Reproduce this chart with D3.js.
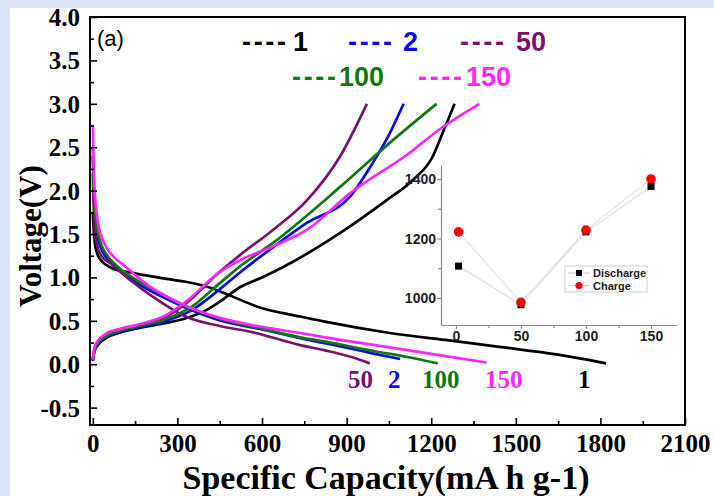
<!DOCTYPE html>
<html>
<head>
<meta charset="utf-8">
<script src="https://cdn.jsdelivr.net/npm/d3@7"></script>
<style>
  body { margin: 0; background: #dae4f6; }
  svg { display: block; }
</style>
</head>
<body>
<div id="chart"></div>
<script>
// ---- data ----
// charge / discharge curves, one pair per cycle (capacity in mA h g-1, voltage in V)
var cycles = ['1', '2', '50', '100', '150'];
var colors = ['#000000', '#0a0aef', '#76146e', '#137813', '#ff26ff'];

var dis1Cap = [0, 3, 7, 15, 28, 50, 81, 130, 177, 250, 329, 417, 480, 587, 735, 823, 1053, 1250, 1442, 1650, 1820];
var dis1V = [1.75, 1.55, 1.4, 1.28, 1.2, 1.14, 1.09, 1.06, 1.03, 0.99, 0.95, 0.88, 0.8, 0.66, 0.55, 0.49, 0.36, 0.28, 0.2, 0.11, 0.01];
var dis2Cap = [0, 3, 8, 15, 30, 50, 80, 150, 250, 330, 445, 600, 735, 900, 1000, 1090];
var dis2V = [2.4, 2.0, 1.7, 1.5, 1.33, 1.22, 1.12, 0.95, 0.77, 0.65, 0.51, 0.4, 0.3, 0.19, 0.12, 0.06];
var dis50Cap = [0, 2, 5, 12, 30, 64, 140, 212, 329, 450, 565, 735, 823, 920, 982];
var dis50V = [2.2, 1.9, 1.65, 1.42, 1.25, 1.16, 0.95, 0.78, 0.55, 0.44, 0.37, 0.22, 0.16, 0.08, 0.01];
var dis100Cap = [0, 3, 8, 15, 30, 50, 80, 150, 250, 330, 445, 600, 735, 823, 1000, 1120, 1223];
var dis100V = [2.5, 2.1, 1.8, 1.58, 1.38, 1.26, 1.15, 0.98, 0.8, 0.67, 0.53, 0.41, 0.31, 0.26, 0.15, 0.08, 0.01];
var dis150Cap = [0, 2, 5, 10, 20, 40, 80, 106, 200, 304, 445, 600, 735, 823, 1000, 1200, 1396];
var dis150V = [2.76, 2.4, 2.1, 1.85, 1.6, 1.4, 1.22, 1.15, 0.9, 0.71, 0.54, 0.43, 0.36, 0.31, 0.22, 0.12, 0.02];

var ch1Cap = [0, 5, 15, 46, 100, 152, 250, 330, 400, 450, 523, 600, 675, 876, 1042, 1134, 1205, 1240, 1283];
var ch1V = [0.04, 0.14, 0.21, 0.3, 0.37, 0.41, 0.47, 0.53, 0.62, 0.72, 0.89, 1.0, 1.12, 1.51, 1.89, 2.12, 2.39, 2.66, 3.0];
var ch2Cap = [0, 5, 15, 46, 100, 152, 250, 350, 445, 523, 640, 760, 912, 993, 1053, 1102];
var ch2V = [0.04, 0.15, 0.22, 0.31, 0.38, 0.42, 0.49, 0.62, 0.85, 1.06, 1.35, 1.63, 1.93, 2.32, 2.66, 3.0];
var ch50Cap = [0, 5, 15, 46, 100, 152, 250, 330, 445, 523, 640, 760, 876, 972];
var ch50V = [0.05, 0.16, 0.24, 0.33, 0.4, 0.44, 0.53, 0.7, 1.05, 1.26, 1.55, 1.89, 2.39, 3.0];
var ch100Cap = [0, 5, 15, 46, 100, 152, 250, 350, 445, 523, 640, 876, 1053, 1219];
var ch100V = [0.05, 0.16, 0.23, 0.32, 0.39, 0.43, 0.51, 0.66, 0.92, 1.13, 1.4, 2.04, 2.55, 3.0];
var ch150Cap = [0, 5, 15, 46, 100, 152, 250, 330, 445, 523, 640, 760, 912, 1113, 1240, 1371];
var ch150V = [0.06, 0.18, 0.26, 0.35, 0.41, 0.45, 0.55, 0.72, 1.05, 1.2, 1.36, 1.55, 1.97, 2.41, 2.73, 3.0];

// inset: capacity vs cycle number
var insetCycles = [2, 50, 100, 150];
var insetDischarge = [1107, 977, 1222, 1375];
var insetCharge = [1222, 985, 1228, 1400];

var xTicks = [0, 300, 600, 900, 1200, 1500, 1800, 2100];
var yTicks = [-0.5, 0, 0.5, 1, 1.5, 2, 2.5, 3, 3.5, 4];

// ---- svg ----
var svgWidth = 714;
var svgHeight = 496;

var svg = d3.select('#chart')
    .append('svg')
    .attr('width', svgWidth)
    .attr('height', svgHeight);

// white sheet over the blue page
svg.append('rect')
    .attr('x', 10).attr('y', 8)
    .attr('width', svgWidth - 10).attr('height', svgHeight - 8)
    .attr('fill', '#ffffff');

var plot = { left: 90, right: 685, top: 17, bottom: 425 };

var xScale = d3.scaleLinear().domain([-10, 2100]).range([plot.left, plot.right]);
var yScale = d3.scaleLinear().domain([-0.7, 4.0]).range([plot.bottom, plot.top]);

var serif = '"Liberation Serif", "Times New Roman", serif';
var sans = '"Liberation Sans", Arial, sans-serif';

// plain hyphen instead of the unicode minus d3 puts in
var fmt1 = v => v.toFixed(1);

// ---- curves ----
function pairs(caps, vs) {
    return caps.map((c, i) => [c, vs[i]]);
}

var curves = [
    [pairs(dis1Cap, dis1V), pairs(ch1Cap, ch1V)],
    [pairs(dis2Cap, dis2V), pairs(ch2Cap, ch2V)],
    [pairs(dis50Cap, dis50V), pairs(ch50Cap, ch50V)],
    [pairs(dis100Cap, dis100V), pairs(ch100Cap, ch100V)],
    [pairs(dis150Cap, dis150V), pairs(ch150Cap, ch150V)]
];

var line = d3.line()
    .x(d => xScale(d[0]))
    .y(d => yScale(d[1]))
    .curve(d3.curveMonotoneX);

var curveGroup = svg.append('g');
curves.forEach((pair, i) => {
    pair.forEach(pts => {
        curveGroup.append('path')
            .datum(pts)
            .attr('d', line)
            .attr('fill', 'none')
            .attr('stroke', colors[i])
            .attr('stroke-width', 2.7)
            .attr('stroke-linejoin', 'round');
    });
});

// ---- axes (ticks point inward) ----
var xAxis = svg.append('g')
    .attr('transform', `translate(0, ${plot.bottom})`)
    .call(d3.axisBottom(xScale).tickValues(xTicks).tickSizeInner(-7).tickSizeOuter(0).tickFormat(d3.format('d')));

svg.append('g')
    .attr('transform', `translate(0, ${plot.bottom})`)
    .call(d3.axisBottom(xScale).tickValues(d3.range(150, 2100, 300)).tickSizeInner(-4).tickSizeOuter(0).tickFormat(''))
    .select('.domain').remove();

var yAxis = svg.append('g')
    .attr('transform', `translate(${plot.left}, 0)`)
    .call(d3.axisLeft(yScale).tickValues(yTicks).tickSizeInner(-7).tickSizeOuter(0).tickFormat(fmt1));

svg.append('g')
    .attr('transform', `translate(${plot.left}, 0)`)
    .call(d3.axisLeft(yScale).tickValues(d3.range(-0.25, 4, 0.5)).tickSizeInner(-4).tickSizeOuter(0).tickFormat(''))
    .select('.domain').remove();

svg.selectAll('.tick line').attr('stroke', '#000').attr('stroke-width', 1.6);

xAxis.selectAll('text')
    .attr('y', 27).attr('dy', 0)
    .attr('font-family', serif).attr('font-weight', 'bold').attr('font-size', 25).attr('fill', '#000');
yAxis.selectAll('text')
    .attr('x', -10).attr('dy', '0.34em')
    .attr('font-family', serif).attr('font-weight', 'bold').attr('font-size', 25).attr('fill', '#000');

// frame
svg.append('rect')
    .attr('x', plot.left).attr('y', plot.top)
    .attr('width', plot.right - plot.left).attr('height', plot.bottom - plot.top)
    .attr('fill', 'none').attr('stroke', '#000').attr('stroke-width', 2);

// axis titles
svg.append('text')
    .attr('transform', `translate(41, 236) rotate(-90)`)
    .attr('text-anchor', 'middle')
    .attr('font-family', serif).attr('font-weight', 'bold').attr('font-size', 31)
    .text('Voltage(V)');

svg.append('text')
    .attr('x', 386).attr('y', 489)
    .attr('text-anchor', 'middle')
    .attr('font-family', serif).attr('font-weight', 'bold').attr('font-size', 34)
    .text('Specific Capacity(mA h g-1)');

svg.append('text')
    .attr('x', 97).attr('y', 46)
    .attr('font-family', sans).attr('font-size', 22)
    .text('(a)');

// legend at top: "---- n"
var legendDash = [[242, 51], [348, 51], [460, 51], [292, 86], [418, 86]];
var legendNum = [[293, 51], [403, 51], [516, 51], [339, 86], [466, 86]];
cycles.forEach((c, i) => {
    svg.append('text')
        .attr('x', legendDash[i][0]).attr('y', legendDash[i][1])
        .attr('textLength', 44).attr('lengthAdjust', 'spacing')
        .attr('font-family', sans).attr('font-weight', 'bold').attr('font-size', 27)
        .attr('fill', colors[i])
        .text('----');
    svg.append('text')
        .attr('x', legendNum[i][0]).attr('y', legendNum[i][1])
        .attr('font-family', sans).attr('font-weight', 'bold').attr('font-size', 27)
        .attr('fill', colors[i])
        .text(c);
});

// labels at curve ends
var endLabelX = [578, 388, 348, 422, 485];
cycles.forEach((c, i) => {
    svg.append('text')
        .attr('x', endLabelX[i]).attr('y', 388)
        .attr('font-family', serif).attr('font-weight', 'bold').attr('font-size', 25)
        .attr('fill', colors[i])
        .text(c);
});

// ---- inset ----
var inset = { left: 441, right: 677, top: 165, bottom: 325 };
var ix = d3.scaleLinear().domain([-11.5, 170]).range([inset.left, inset.right]);
var iy = d3.scaleLinear().domain([909, 1447]).range([inset.bottom, inset.top]);

var insetGroup = svg.append('g');

var ixAxis = insetGroup.append('g')
    .attr('transform', `translate(0, ${inset.bottom})`)
    .call(d3.axisBottom(ix).tickValues([0, 50, 100, 150]).tickSizeInner(4).tickSizeOuter(0).tickFormat(d3.format('d')));
insetGroup.append('g')
    .attr('transform', `translate(0, ${inset.bottom})`)
    .call(d3.axisBottom(ix).tickValues([25, 75, 125]).tickSizeInner(3).tickSizeOuter(0).tickFormat(''))
    .select('.domain').remove();
var iyAxis = insetGroup.append('g')
    .attr('transform', `translate(${inset.left}, 0)`)
    .call(d3.axisLeft(iy).tickValues([1000, 1200, 1400]).tickSizeInner(4).tickSizeOuter(0).tickFormat(d3.format('d')));
insetGroup.append('g')
    .attr('transform', `translate(${inset.left}, 0)`)
    .call(d3.axisLeft(iy).tickValues([1100, 1300]).tickSizeInner(3).tickSizeOuter(0).tickFormat(''))
    .select('.domain').remove();

insetGroup.selectAll('.domain').attr('stroke', '#8a8a8a').attr('stroke-width', 1.2);
insetGroup.selectAll('.tick line').attr('stroke', '#8a8a8a').attr('stroke-width', 1.2);
insetGroup.selectAll('.tick text')
    .attr('font-family', sans).attr('font-weight', 'bold').attr('font-size', 14).attr('fill', '#222');
ixAxis.selectAll('text').attr('y', 16).attr('dy', 0);
iyAxis.selectAll('text').attr('x', -5).attr('dy', '0.35em');

var iline = d3.line().x(d => ix(d[0])).y(d => iy(d[1]));
var disPts = pairs(insetCycles, insetDischarge);
var chPts = pairs(insetCycles, insetCharge);

insetGroup.append('path').datum(disPts).attr('d', iline)
    .attr('fill', 'none').attr('stroke', '#d2d2d2').attr('stroke-width', 1);
insetGroup.append('path').datum(chPts).attr('d', iline)
    .attr('fill', 'none').attr('stroke', '#f4c8c8').attr('stroke-width', 1);

insetGroup.selectAll('rect.dis')
    .data(disPts).enter().append('rect')
    .attr('x', d => ix(d[0]) - 3.5).attr('y', d => iy(d[1]) - 3.5)
    .attr('width', 7).attr('height', 7)
    .attr('fill', '#000');
insetGroup.selectAll('circle.ch')
    .data(chPts).enter().append('circle')
    .attr('cx', d => ix(d[0])).attr('cy', d => iy(d[1]))
    .attr('r', 4.8)
    .attr('fill', '#ff0000');

// inset legend
var lg = insetGroup.append('g');
lg.append('rect')
    .attr('x', 565).attr('y', 266).attr('width', 82).attr('height', 26)
    .attr('fill', 'none').attr('stroke', '#d0d0d0').attr('stroke-width', 1);
lg.append('line').attr('x1', 568).attr('x2', 590).attr('y1', 273).attr('y2', 273)
    .attr('stroke', '#c8c8c8');
lg.append('line').attr('x1', 568).attr('x2', 590).attr('y1', 285.5).attr('y2', 285.5)
    .attr('stroke', '#f4c8c8');
lg.append('rect').attr('x', 576).attr('y', 270).attr('width', 6).attr('height', 6).attr('fill', '#000');
lg.append('circle').attr('cx', 579).attr('cy', 285.5).attr('r', 3.6).attr('fill', '#ff0000');
lg.append('text').attr('x', 593).attr('y', 277)
    .attr('font-family', sans).attr('font-weight', 'bold').attr('font-size', 11).attr('fill', '#222')
    .text('Discharge');
lg.append('text').attr('x', 593).attr('y', 290)
    .attr('font-family', sans).attr('font-weight', 'bold').attr('font-size', 11).attr('fill', '#222')
    .text('Charge');
</script>
</body>
</html>
